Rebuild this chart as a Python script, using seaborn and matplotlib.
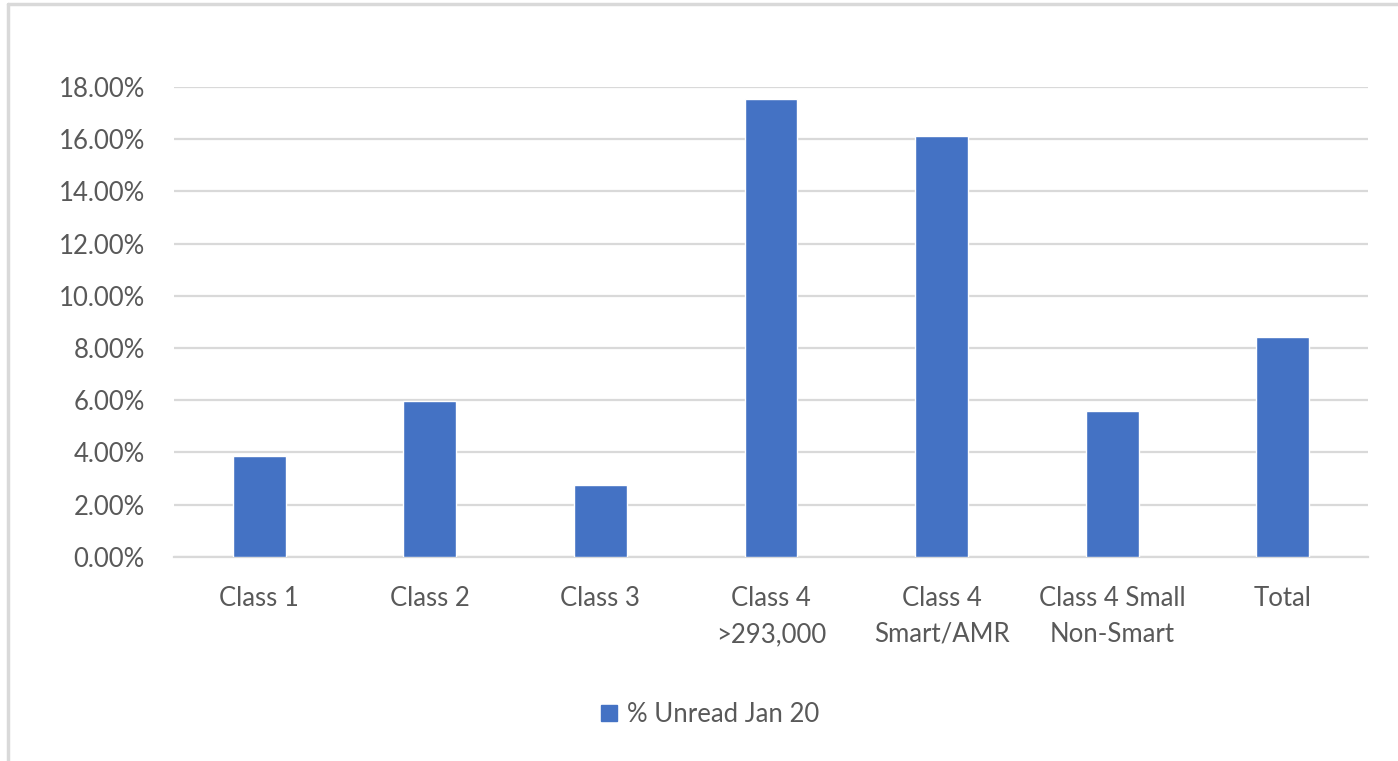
import matplotlib
matplotlib.use("Agg")
import matplotlib.pyplot as plt
import matplotlib.ticker as mticker
from matplotlib.lines import Line2D
import pandas as pd
import seaborn as sns

# data
categories = ["Class 1", "Class 2", "Class 3", "Class 4\n>293,000",
              "Class 4\nSmart/AMR", "Class 4 Small\nNon-Smart", "Total"]
unread_jan20 = [0.0386, 0.0597, 0.0274, 0.1753, 0.1611, 0.0557, 0.0843]
y_ticks = [0.00, 0.02, 0.04, 0.06, 0.08, 0.10, 0.12, 0.14, 0.16, 0.18]
series_name = "% Unread Jan 20"

df = pd.DataFrame({"category": categories, "value": unread_jan20})

sns.set_style("white")
plt.rcParams["font.family"] = ["Lato", "DejaVu Sans"]
txt = "#595959"
grid = "#d9d9d9"

W, H = 1398, 761
fig = plt.figure(figsize=(W / 100, H / 100), dpi=100)
ax = fig.add_axes([174 / W, 1 - 556.7 / H, (1368 - 174) / W, (556.7 - 87) / H])

sns.barplot(data=df, x="category", y="value", color="#4472C4", width=0.31,
            saturation=1, ax=ax, label=series_name, zorder=3)

ax.set_ylim(0, 0.18)
ax.set_yticks(y_ticks)
ax.yaxis.set_major_formatter(mticker.FuncFormatter(lambda v, p: f"{v*100:.2f}%"))
ax.set_xlim(-0.5, len(categories) - 0.5)
ax.grid(axis="y", color=grid, lw=1.6, zorder=0)
for s in ["top", "right", "left"]:
    ax.spines[s].set_visible(False)
ax.spines["bottom"].set_color(grid)
ax.spines["bottom"].set_linewidth(1.6)
ax.set_xlabel("")
ax.set_ylabel("")
ax.tick_params(axis="both", length=0, colors=txt, labelsize=18.5)
ax.tick_params(axis="y", pad=21)
ax.tick_params(axis="x", pad=21)
for t in ax.get_xticklabels():
    t.set_linespacing(1.55)
if ax.get_legend():
    ax.get_legend().remove()

handle = Line2D([], [], marker="s", ls="", color="#4472C4", markersize=11)
fig.legend([handle], [series_name], loc="center", bbox_to_anchor=(709 / W, 1 - 714 / H),
           frameon=False, fontsize=18.5, labelcolor=txt, handletextpad=0.3,
           handlelength=0.8)

# light frame around the chart area
fig.add_artist(Line2D([8 / W, 8 / W], [0, 1 - 4 / H], color=grid, lw=2.5))
fig.add_artist(Line2D([8 / W, 1], [1 - 4 / H, 1 - 4 / H], color=grid, lw=2.5))

fig.savefig("out.png", dpi=100, facecolor="white")
